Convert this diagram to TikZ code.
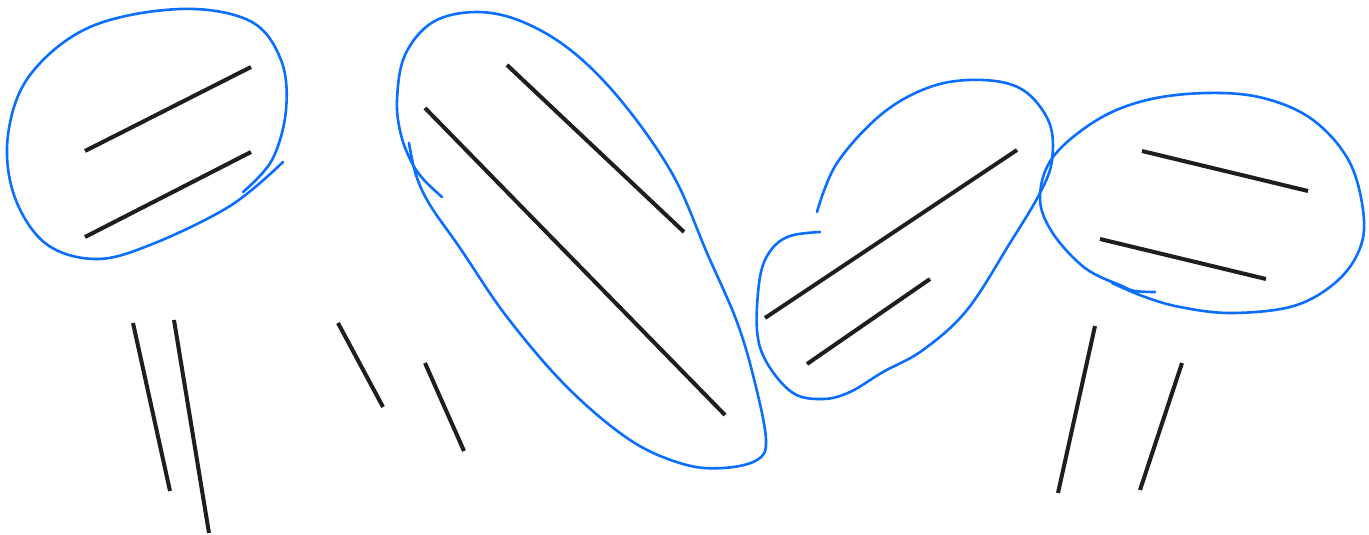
\documentclass[tikz,border=0pt]{standalone}
\usepackage{tikz}
\definecolor{inkblack}{RGB}{30,30,30}
\definecolor{penblue}{RGB}{10,110,255}
\tikzset{
    x=1pt, y=-1pt,
    stroke/.style={draw=inkblack, line width=4pt},
    lasso/.style={draw=penblue, line width=2.6pt, line cap=round, line join=round},
}

\begin{document}
\begin{tikzpicture}
    \useasboundingbox[fill=white] (0,0) rectangle (1369,535);

    % ===== BLACK STROKES =====
    \draw[stroke] (85,151) -- (251,67);
    \draw[stroke] (85,237) -- (251,152);
    \draw[stroke] (133,323) -- (170,491);
    \draw[stroke] (174,320) -- (209,533);
    \draw[stroke] (338,323) -- (383,407);
    \draw[stroke] (425,363) -- (464,451);
    \draw[stroke] (507,65) -- (684,232);
    \draw[stroke] (425,108) -- (725,415);
    \draw[stroke] (765,318) -- (1017,150);
    \draw[stroke] (807,364) -- (930,279);
    \draw[stroke] (1142,151) -- (1308,191);
    \draw[stroke] (1100,239) -- (1266,279);
    \draw[stroke] (1095,326) -- (1058,493);
    \draw[stroke] (1182,363) -- (1140,490);

    % ===== BLUE LOOPS =====
    \draw[lasso] plot[smooth, tension=0.6] coordinates {
        (283,162) (230,206) (150,245) (95,259) (45,243) (14,195)
        (8,135) (30,75) (90,27) (180,9) (250,21) (281,60)
        (286,110) (272,160) (243,192)};

    \draw[lasso] plot[smooth, tension=0.6] coordinates {
        (442,197) (424,180) (412,163) (401,135) (397,100) (405,55)
        (433,22) (477,12) (523,22) (573,52) (623,103) (673,175)
        (707,253) (737,322) (755,383) (766,440) (757,460) (723,468)
        (683,464) (630,440) (567,387) (507,317) (460,248) (430,205)
        (416,175) (409,143)};

    \draw[lasso] plot[smooth, tension=0.6] coordinates {
        (817,212) (837,163) (883,113) (933,86) (983,80) (1023,90)
        (1049,122) (1052,160) (1040,193) (1010,243) (967,310)
        (923,350) (883,372) (850,392) (823,399) (793,393) (767,363)
        (757,330) (760,277) (771,250) (790,236) (820,232)};

    \draw[lasso] plot[smooth, tension=0.6] coordinates {
        (1155,292) (1135,291) (1122,286) (1085,268) (1052,232)
        (1040,197) (1053,157) (1097,120) (1147,100) (1207,93)
        (1263,98) (1313,120) (1350,163) (1364,220) (1356,257)
        (1330,287) (1290,307) (1230,313) (1180,307) (1145,297)
        (1112,283)};
\end{tikzpicture}
\end{document}
